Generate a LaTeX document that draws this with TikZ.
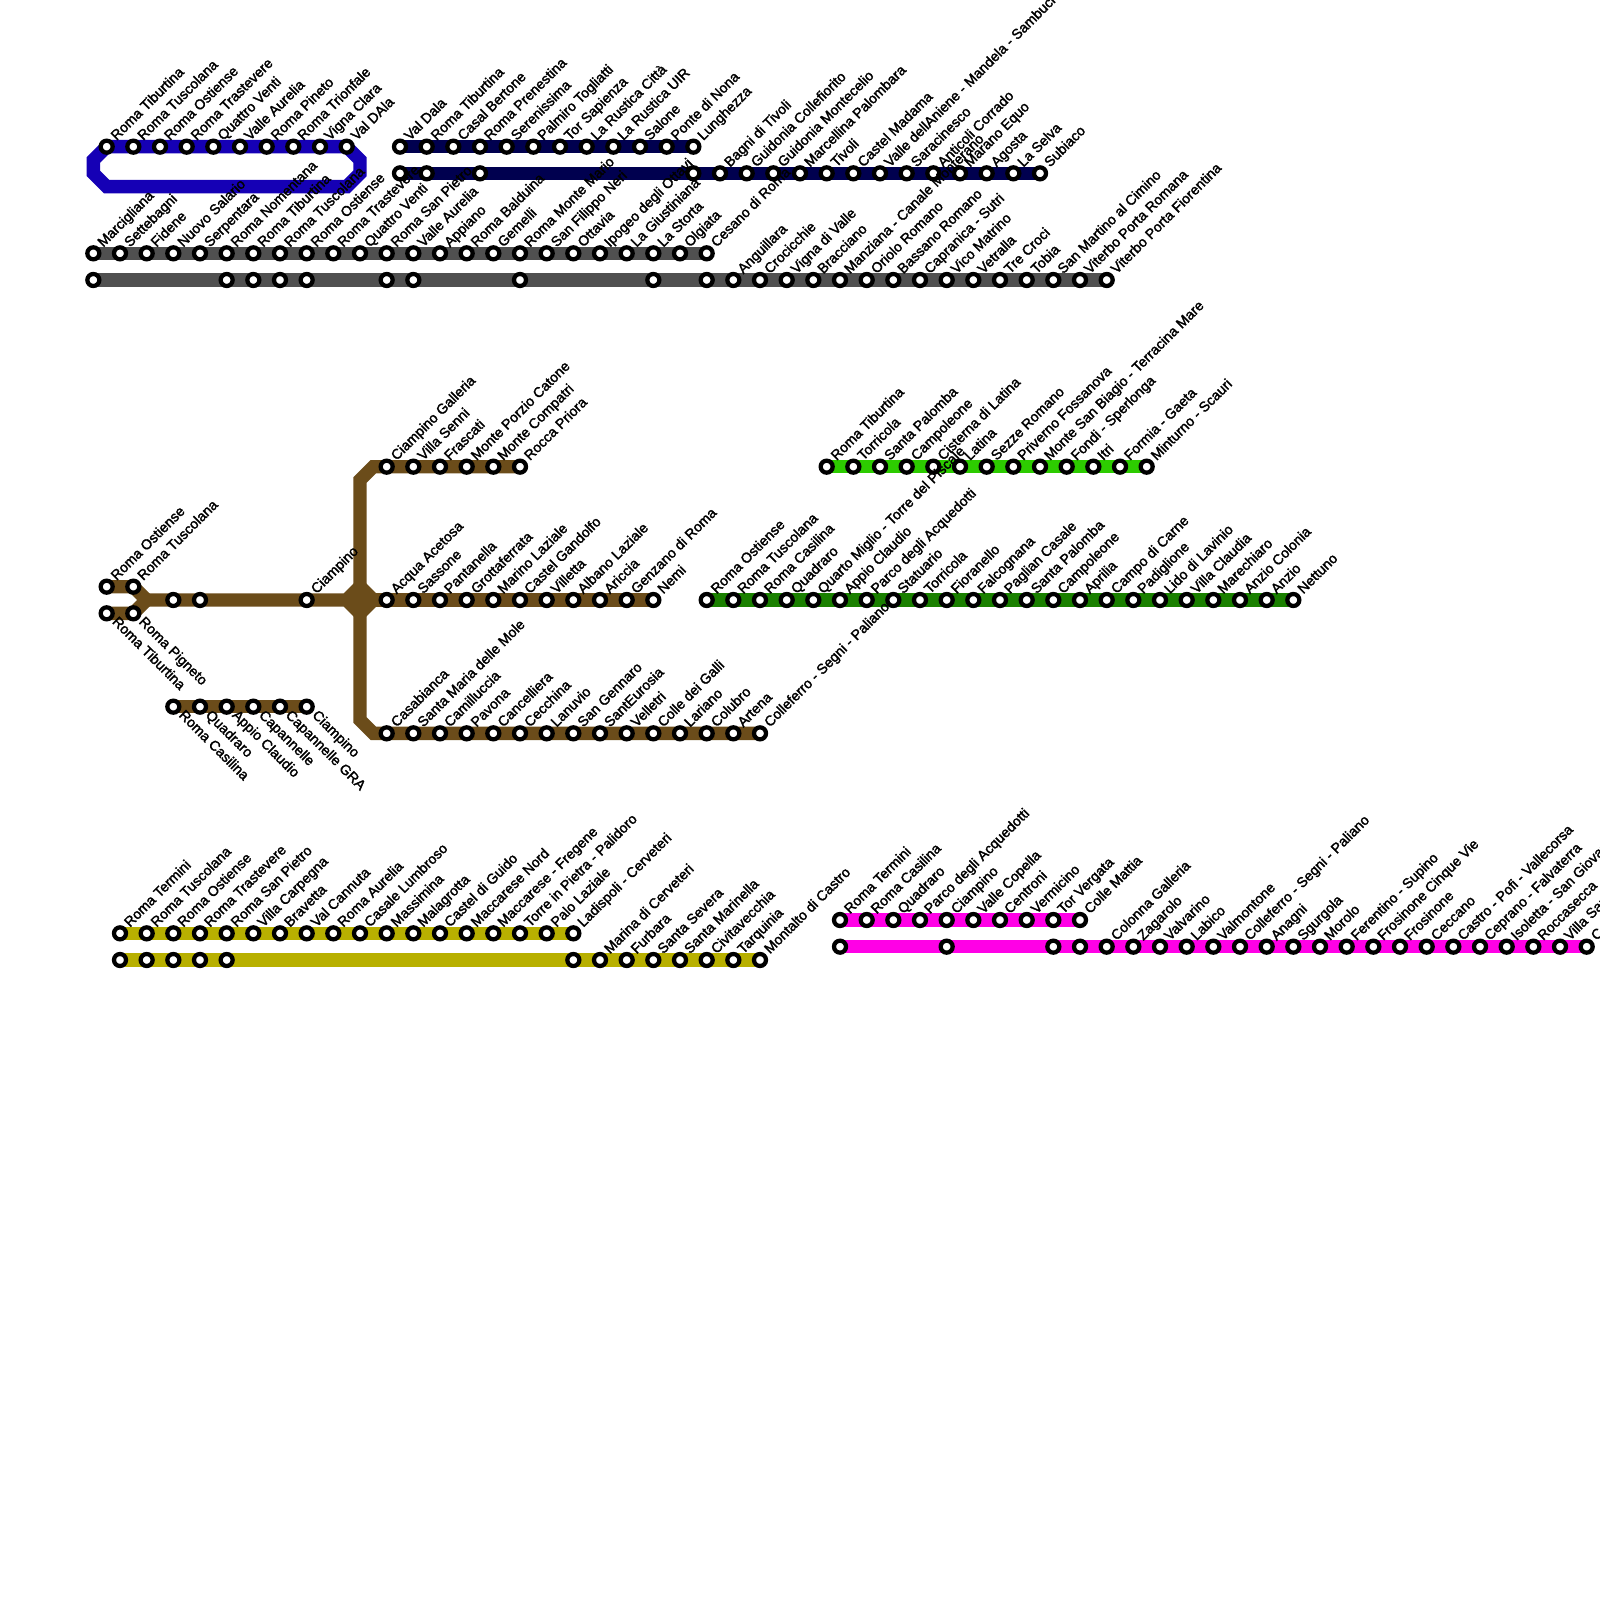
\documentclass[tikz,border=0pt]{standalone}
\usepackage{fontspec}
\newfontfamily\lab[RawFeature={embolden=2}]{Liberation Sans}
\usetikzlibrary{backgrounds}
\definecolor{cblue}{HTML}{1500B5}
\definecolor{cnavy}{HTML}{00004F}
\definecolor{cgray}{HTML}{505050}
\definecolor{cbrown}{HTML}{6B4C1A}
\definecolor{clime}{HTML}{2DCC00}
\definecolor{cgreen}{HTML}{1A8000}
\definecolor{colive}{HTML}{B8B000}
\definecolor{cmag}{HTML}{FF00E6}
\tikzset{
  x=0.5cm,y=-0.5cm,
  stn/.style={circle,draw=black,fill=white,line width=0.08cm,minimum size=0.225cm,inner sep=0pt},
  lbl/.style={inner sep=0pt,font=\lab\fontsize{7.55pt}{9pt}\selectfont,text=black},
  lblup/.style={lbl,xshift=0.183cm,yshift=0.1cm,rotate=45,anchor=base west},
  lbldown/.style={lbl,xshift=0.088cm,yshift=-0.169cm,rotate=-45,anchor=base west},
  railline/.style={line width=0.25cm,line join=miter},
}
% named stations, x = start, start+1, ... with a label above or below
\newcommand\uprow[4]{\foreach \t [count=\i from 1, evaluate=\i as \xx using {#2+\i-1}] in {#4}{%
  \node[stn] (#1-\i) at (\xx,#3) {};
  \node[lblup] (#1-\i-t) at (\xx,#3) {\t};}}
\newcommand\downrow[4]{\foreach \t [count=\i from 1, evaluate=\i as \xx using {#2+\i-1}] in {#4}{%
  \node[stn] (#1-\i) at (\xx,#3) {};
  \node[lbldown] (#1-\i-t) at (\xx,#3) {\t};}}
\newcommand\plainrow[3]{\foreach \xx [count=\i from 1] in {#3}{%
  \node[stn] (#1-\i) at (\xx,#2) {};}}
\begin{document}
\begin{tikzpicture}
\useasboundingbox (0,0) rectangle (60,60);
% blue loop
\uprow{bl}{4}{5.5}{Roma Tiburtina,Roma Tuscolana,Roma Ostiense,Roma Trastevere,Quattro Venti,Valle Aurelia,Roma Pineto,Roma Trionfale,Vigna Clara,Val DAla}
\coordinate (bla) at (13.5,6);\coordinate (blb) at (13.5,6.5);\coordinate (blc) at (13,7);
\coordinate (bld) at (4,7);\coordinate (ble) at (3.5,6.5);\coordinate (blf) at (3.5,6);
% navy
\uprow{na}{15}{5.5}{Val Dala,Roma Tiburtina,Casal Bertone,Roma Prenestina,Serenissima,Palmiro Togliatti,Tor Sapienza,La Rustica Città,La Rustica UIR,Salone,Ponte di Nona,Lunghezza}
\plainrow{nb}{6.5}{15,16,18,26}
\uprow{nc}{27}{6.5}{Bagni di Tivoli,Guidonia Collefiorito,Guidonia Montecelio,Marcellina Palombara,Tivoli,Castel Madama,Valle dellAniene - Mandela - Sambuci,Saracinesco,Anticoli Corrado,Marano Equo,Agosta,La Selva,Subiaco}
% gray
\uprow{ga}{3.5}{9.5}{Marcigliana,Settebagni,Fidene,Nuovo Salario,Serpentara,Roma Nomentana,Roma Tiburtina,Roma Tuscolana,Roma Ostiense,Roma Trastevere,Quattro Venti,Roma San Pietro,Valle Aurelia,Appiano,Roma Balduina,Gemelli,Roma Monte Mario,San Filippo Neri,Ottavia,Ipogeo degli Ottavi,La Giustiniana,La Storta,Olgiata,Cesano di Roma}
\plainrow{gb}{10.5}{3.5,8.5,9.5,10.5,11.5,14.5,15.5,19.5,24.5,26.5}
\uprow{gc}{27.5}{10.5}{Anguillara,Crocicchie,Vigna di Valle,Bracciano,Manziana - Canale Monterano,Oriolo Romano,Bassano Romano,Capranica - Sutri,Vico Matrino,Vetralla,Tre Croci,Tobia,San Martino al Cimino,Viterbo Porta Romana,Viterbo Porta Fiorentina}
% brown
\uprow{ba}{4}{22}{Roma Ostiense,Roma Tuscolana}
\downrow{bb}{4}{23}{Roma Tiburtina,Roma Pigneto}
\plainrow{bc}{22.5}{6.5,7.5}
\uprow{bd}{11.5}{22.5}{Ciampino}
\uprow{be}{14.5}{17.5}{Ciampino Galleria,Villa Senni,Frascati,Monte Porzio Catone,Monte Compatri,Rocca Priora}
\uprow{bf}{14.5}{22.5}{Acqua Acetosa,Sassone,Pantanella,Grottaferrata,Marino Laziale,Castel Gandolfo,Villetta,Albano Laziale,Ariccia,Genzano di Roma,Nemi}
\uprow{bg}{14.5}{27.5}{Casabianca,Santa Maria delle Mole,Camilluccia,Pavona,Cancelliera,Cecchina,Lanuvio,San Gennaro,SantEurosia,Velletri,Colle dei Galli,Lariano,Colubro,Artena,Colleferro - Segni - Paliano}
\downrow{bh}{6.5}{26.5}{Roma Casilina,Quadraro,Appio Claudio,Capannelle,Capannelle GRA,Ciampino}
\coordinate (fork) at (5.5,22.5);
\coordinate (jw) at (13,22.5);\coordinate (jn) at (13.5,22);\coordinate (je) at (14,22.5);\coordinate (js) at (13.5,23);
\coordinate (tv) at (13.5,18);\coordinate (th) at (14,17.5);\coordinate (bv) at (13.5,27);\coordinate (bh) at (14,27.5);
% greens
\uprow{li}{31}{17.5}{Roma Tiburtina,Torricola,Santa Palomba,Campoleone,Cisterna di Latina,Latina,Sezze Romano,Priverno Fossanova,Monte San Biagio - Terracina Mare,Fondi - Sperlonga,Itri,Formia - Gaeta,Minturno - Scauri}
\uprow{gr}{26.5}{22.5}{Roma Ostiense,Roma Tuscolana,Roma Casilina,Quadraro,Quarto Miglio - Torre del Piscale,Appio Claudio,Parco degli Acquedotti,Statuario,Torricola,Fioranello,Falcognana,Paglian Casale,Santa Palomba,Campoleone,Aprilia,Campo di Carne,Padiglione,Lido di Lavinio,Villa Claudia,Marechiaro,Anzio Colonia,Anzio,Nettuno}
% olive
\uprow{oa}{4.5}{35}{Roma Termini,Roma Tuscolana,Roma Ostiense,Roma Trastevere,Roma San Pietro,Villa Carpegna,Bravetta,Val Cannuta,Roma Aurelia,Casale Lumbroso,Massimina,Malagrotta,Castel di Guido,Maccarese Nord,Maccarese - Fregene,Torre in Pietra - Palidoro,Palo Laziale,Ladispoli - Cerveteri}
\plainrow{ob}{36}{4.5,5.5,6.5,7.5,8.5,21.5}
\uprow{oc}{22.5}{36}{Marina di Cerveteri,Furbara,Santa Severa,Santa Marinella,Civitavecchia,Tarquinia,Montalto di Castro}
% magenta
\uprow{ma}{31.5}{34.5}{Roma Termini,Roma Casilina,Quadraro,Parco degli Acquedotti,Ciampino,Valle Copella,Centroni,Vermicino,Tor Vergata,Colle Mattia}
\plainrow{mb}{35.5}{31.5,35.5,39.5,40.5}
\uprow{mc}{41.5}{35.5}{Colonna Galleria,Zagarolo,Valvarino,Labico,Valmontone,Colleferro - Segni - Paliano,Anagni,Sgurgola,Morolo,Ferentino - Supino,Frosinone Cinque Vie,Frosinone,Ceccano,Castro - Pofi - Vallecorsa,Ceprano - Falvaterra,Isoletta - San Giovanni Incarico,Roccasecca,Villa Santa Lucia,Cassino}
\begin{scope}[on background layer]
\draw[railline,cblue] (bl-1.center) -- (bl-10.center) -- (bla) -- (blb) -- (blc) -- (bld) -- (ble) -- (blf) -- cycle;
\draw[railline,cnavy] (na-1.center) -- (na-12.center);
\draw[railline,cnavy] (nb-1.center) -- (nc-13.center);
\draw[railline,cgray] (ga-1.center) -- (ga-24.center);
\draw[railline,cgray] (gb-1.center) -- (gc-15.center);
\draw[railline,cbrown] (ba-1.center) -- (ba-2.center) -- (fork) -- (bb-2.center) -- (bb-1.center);
\draw[railline,cbrown] (fork) -- (jw) -- (jn) -- (je) -- (js) -- (jw) -- cycle;
\fill[cbrown] (jw) -- (jn) -- (je) -- (js) -- cycle;
\draw[railline,cbrown] (je) -- (bf-11.center);
\draw[railline,cbrown] (jn) -- (tv) -- (th) -- (be-6.center);
\draw[railline,cbrown] (js) -- (bv) -- (bh) -- (bg-15.center);
\draw[railline,cbrown] (bh-1.center) -- (bh-6.center);
\draw[railline,clime] (li-1.center) -- (li-13.center);
\draw[railline,cgreen] (gr-1.center) -- (gr-23.center);
\draw[railline,colive] (oa-1.center) -- (oa-18.center);
\draw[railline,colive] (ob-1.center) -- (oc-7.center);
\draw[railline,cmag] (ma-1.center) -- (ma-10.center);
\draw[railline,cmag] (mb-1.center) -- (mc-19.center);
\end{scope}
\end{tikzpicture}
\end{document}
